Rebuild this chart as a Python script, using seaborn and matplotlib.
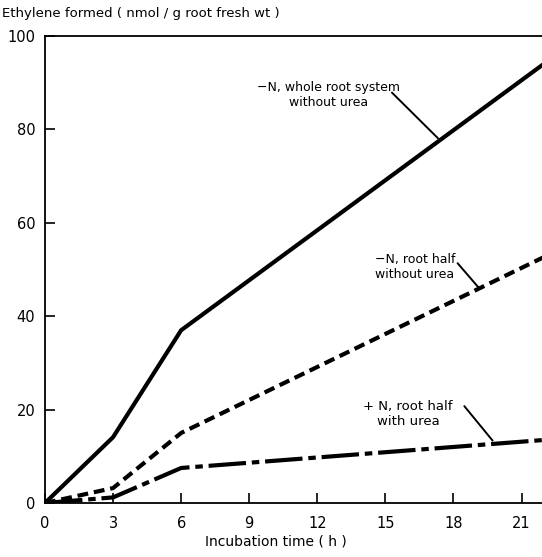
import matplotlib
matplotlib.use("Agg")
import matplotlib.pyplot as plt
import seaborn as sns
import pandas as pd

# ---- data ----
time_h = [0, 3, 6, 22]
whole_root_no_urea = [0, 14.1, 37.0, 94.1]
root_half_no_urea = [0, 3.2, 15.0, 52.7]
root_half_with_urea = [0, 1.2, 7.5, 13.5]

series_names = ["whole", "half_no_urea", "half_urea"]
x_ticks = [0, 3, 6, 9, 12, 15, 18, 21]
y_ticks = [0, 20, 40, 60, 80, 100]

df = pd.DataFrame({
    "time": time_h * 3,
    "ethylene": whole_root_no_urea + root_half_no_urea + root_half_with_urea,
    "condition": [series_names[0]] * 4 + [series_names[1]] * 4 + [series_names[2]] * 4,
})

sns.set_style("ticks")
plt.rcParams["font.family"] = ["DejaVu Sans"]
plt.rcParams["text.color"] = "black"
plt.rcParams["axes.labelcolor"] = "black"

fig = plt.figure(figsize=(5.42, 5.57), dpi=100)
ax = fig.add_axes([45 / 542, 54 / 557, 1 - 45 / 542, 467 / 557])

dash_styles = {
    "whole": "",
    "half_no_urea": (2.6, 1.4),
    "half_urea": (9, 1.4, 1.8, 1.4),
}
sns.lineplot(data=df, x="time", y="ethylene", style="condition", dashes=dash_styles,
             color="black", linewidth=3.0, legend=False, ax=ax, sort=False)

ax.set_xlim(0, 21.9)
ax.set_ylim(0, 100)
ax.set_xticks(x_ticks)
ax.set_yticks(y_ticks)
ax.spines["right"].set_visible(False)
for s in ["left", "top", "bottom"]:
    ax.spines[s].set_linewidth(1.3)
    ax.spines[s].set_color("black")
ax.tick_params(axis="both", direction="in", length=7, width=1.2, labelsize=10.5,
               colors="black")
ax.tick_params(axis="x", pad=9)
ax.tick_params(axis="y", pad=7)
ax.set_ylabel("")
ax.set_xlabel("Incubation time ( h )", fontsize=10, color="black")
ax.xaxis.set_label_coords(0.465, -0.067)

fig.text(0.004, 1 - 13 / 557, "Ethylene formed ( nmol / g root fresh wt )",
         fontsize=9.5, va="center", ha="left", color="black")

# annotations
ax.text(12.5, 87.3, "\u2212N, whole root system\nwithout urea", fontsize=9,
        ha="center", va="center", multialignment="center", linespacing=1.2,
        color="black")
ax.annotate("", xy=(17.4, 77.7), xytext=(15.2, 88.3),
            arrowprops=dict(arrowstyle="-", lw=1.4, color="black"))

ax.text(16.3, 50.5, "\u2212N, root half\nwithout urea", fontsize=9,
        ha="center", va="center", multialignment="center", linespacing=1.2,
        color="black")
ax.annotate("", xy=(19.2, 45.6), xytext=(18.1, 51.8),
            arrowprops=dict(arrowstyle="-", lw=1.4, color="black"))

ax.text(16.0, 19.0, "+ N, root half\nwith urea", fontsize=9.5,
        ha="center", va="center", multialignment="center", linespacing=1.2,
        color="black")
ax.annotate("", xy=(19.8, 12.9), xytext=(18.4, 21.2),
            arrowprops=dict(arrowstyle="-", lw=1.4, color="black"))

fig.savefig("out.png", dpi=100)
